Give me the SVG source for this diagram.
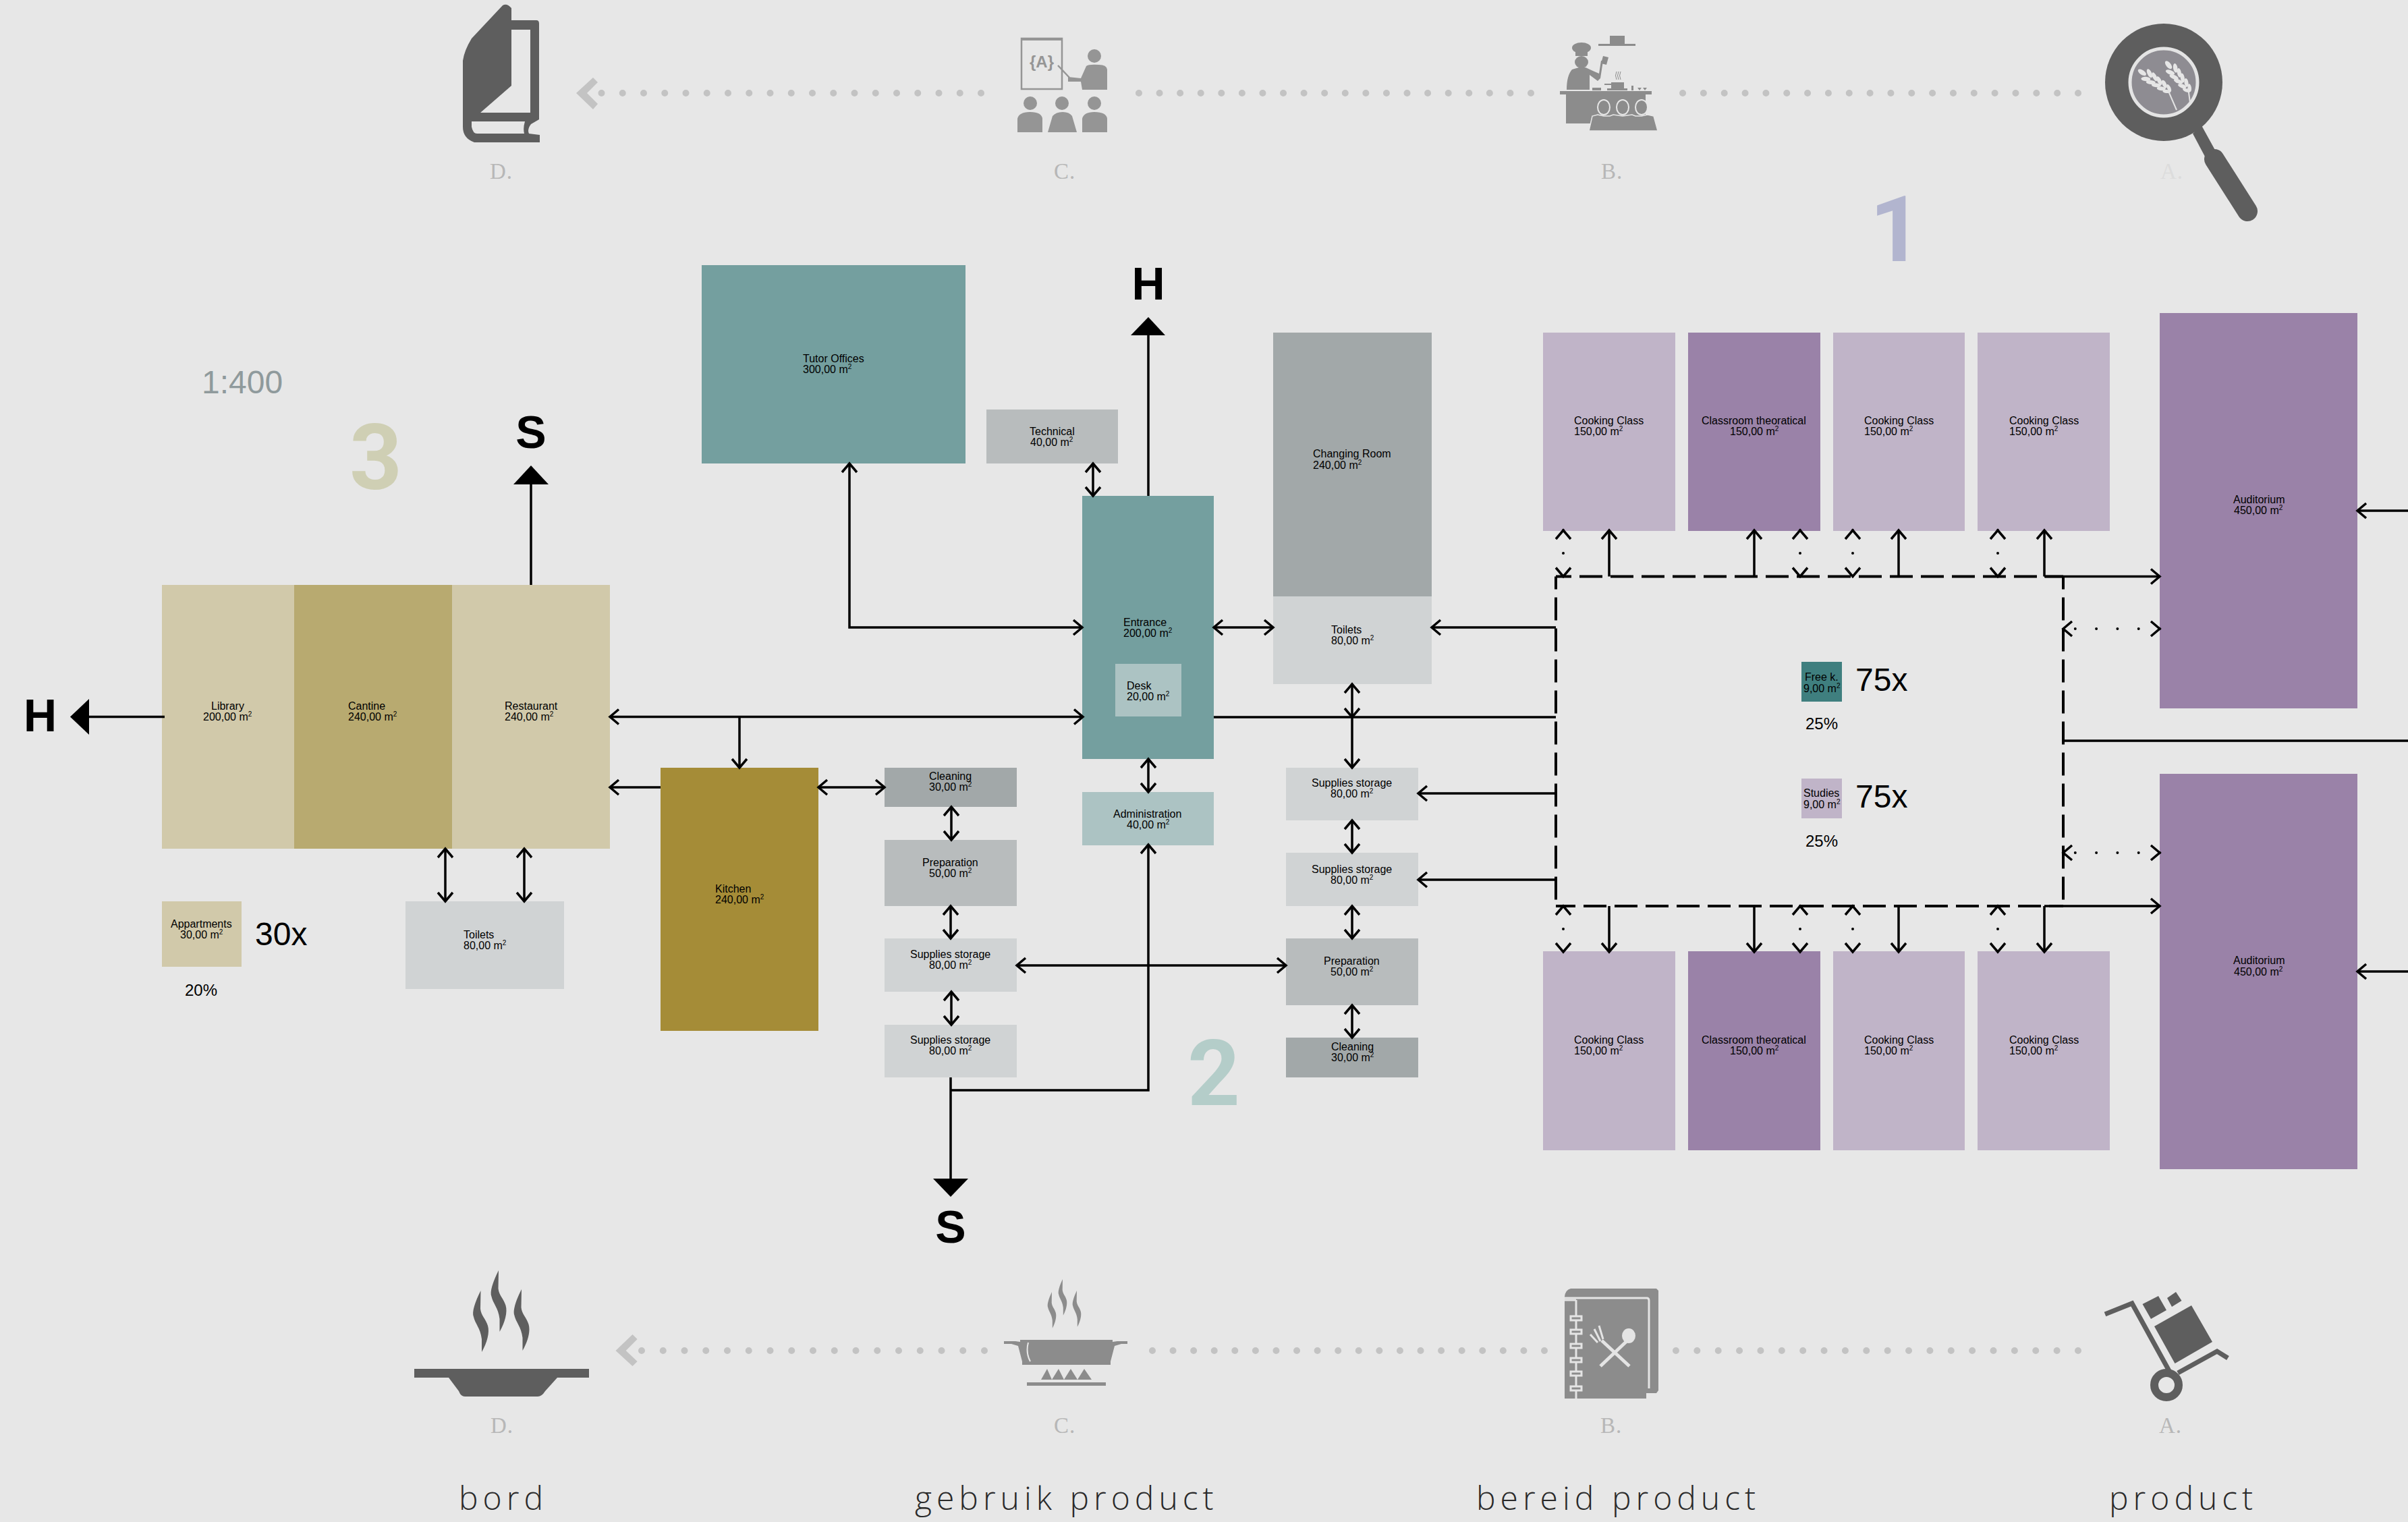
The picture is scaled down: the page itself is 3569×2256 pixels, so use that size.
<svg xmlns="http://www.w3.org/2000/svg" width="3569" height="2256" viewBox="0 0 3569 2256">
<style>
text{font-family:"Liberation Sans",Arial,sans-serif;fill:#000}
.l{font-size:16px}
.s{font-size:10px}
.big{font-size:48px}
.pct{font-size:24px}
.dir{font-size:68px;font-weight:700}
.num{font-family:Roboto,"Liberation Sans",sans-serif;font-size:136px;font-weight:700}
.ltr{font-family:"Liberation Serif",serif;font-size:33px;fill:#b7b7b7;letter-spacing:1px}
.cap{font-family:"Open Sans",sans-serif;font-weight:300;font-size:48px;fill:#2a2a2a;letter-spacing:7px}
.lib{fill:#d1c9aa}.can{fill:#b8aa70}.kit{fill:#a58c37}.teal{fill:#749f9f}.pale{fill:#acc3c3}
.g1{fill:#a2a8a9}.g2{fill:#b8bcbd}.g3{fill:#d0d3d4}.p1{fill:#c0b4c8}.p2{fill:#9a82a8}
.c{fill:none;stroke:#000;stroke-width:3.5}
.u{marker-end:url(#a)}.b{marker-start:url(#a);marker-end:url(#a)}
.dash{stroke-width:4;stroke-dasharray:34 12}
.dot{stroke-width:4;stroke-linecap:round;stroke-dasharray:0 34}
.dots{fill:none;stroke:#c3c3c3;stroke-width:10;stroke-linecap:round}
.dk{fill:#5e5e5e}.md{fill:#8c8c8c}.hl{fill:#e7e7e7}
</style>
<defs>
<marker id="a" markerWidth="32" markerHeight="32" refX="28" refY="16" orient="auto-start-reverse" markerUnits="userSpaceOnUse"><path d="M15,5 L28,16 L15,27" fill="none" stroke="#000" stroke-width="3.5"/></marker>
<path id="smoke" d="M712.5,1913 C704,1930 699,1945 702,1952 C704,1962 712,1968 714,1985 L714,2004 C722,1990 726,1975 723,1965 C720,1955 713,1950 712,1940 Z"/>
<g id="ear" fill="#e6e6e6"><ellipse cx="0" cy="-3" rx="6" ry="2.6" transform="rotate(-30 0 -3)"/><ellipse cx="0" cy="3" rx="6" ry="2.6" transform="rotate(30 0 3)"/><ellipse cx="9" cy="-4" rx="6.5" ry="3" transform="rotate(-30 9 -4)"/><ellipse cx="9" cy="4" rx="6.5" ry="3" transform="rotate(30 9 4)"/><ellipse cx="18" cy="-4" rx="7" ry="3" transform="rotate(-30 18 -4)"/><ellipse cx="18" cy="4" rx="7" ry="3" transform="rotate(30 18 4)"/><ellipse cx="27" cy="-5" rx="7" ry="3" transform="rotate(-30 27 -5)"/><ellipse cx="27" cy="5" rx="7" ry="3" transform="rotate(30 27 5)"/><ellipse cx="36" cy="-5" rx="7" ry="3.2" transform="rotate(-30 36 -5)"/><ellipse cx="36" cy="5" rx="7" ry="3.2" transform="rotate(30 36 5)"/><ellipse cx="46" cy="0" rx="7" ry="3.5"/></g>
</defs>
<rect width="3569" height="2256" fill="#e7e7e7"/>

<g id="icons-top">
<g id="icon-book"><path class="dk" fill-rule="evenodd" d="M745,8 Q751,4 758,12 V30 H795 Q799,30 799,35 V177 L787,184 Q781,192 784,198 L800,200 V211 H703 Q686,205 686,188 V90 Q688,75 699,57 Z M758,44 V127 L712,167 H786 V44 Z M699,180 V188 Q701,198 707,198 H777 Q775,190 778,180 Z"/></g>
<g id="icon-teacher" fill="#959595">
<rect x="1514" y="57" width="60" height="75" fill="none" stroke="#959595" stroke-width="2.5"/><rect x="1513" y="56" width="62" height="4"/>
<text x="1544" y="100" text-anchor="middle" font-size="24" font-weight="700" style="fill:#959595">{A}</text>
<path d="M1568,97 L1585,115" stroke="#959595" stroke-width="2.5"/>
<ellipse cx="1622" cy="83" rx="10" ry="10"/>
<path d="M1604,133 H1641 V103 Q1640,96 1629,96 Q1613,95 1610,98 L1602,116 L1583,114 V121 H1602 Z"/>
<ellipse cx="1527" cy="153" rx="10" ry="10"/><ellipse cx="1574" cy="153" rx="10" ry="10"/><ellipse cx="1622" cy="153" rx="10" ry="10"/>
<path d="M1508,196 V176 Q1510,166 1527,166 Q1544,166 1545,176 V196 Z M1553,196 L1560,172 Q1565,166 1575,166 Q1585,166 1589,172 L1596,196 Z M1604,196 V176 Q1606,166 1622,166 Q1640,166 1641,176 V196 Z"/>
</g>
<g id="icon-chef" class="md">
<rect x="2369" y="65" width="55" height="3"/><rect x="2386" y="53" width="22" height="12"/>
<ellipse cx="2344" cy="71" rx="14" ry="8"/><rect x="2335" y="75" width="18" height="8"/><ellipse cx="2344" cy="92" rx="10" ry="9"/>
<path d="M2322,133 Q2322,112 2330,103 L2340,100 H2350 L2363,106 L2370,109 L2373,90 L2376,90 L2372,116 L2368,120 L2356,111 V133 Z"/>
<path d="M2373,94 L2376,83 L2384,85 L2381,96 Z"/>
<path d="M2396,106 q-3,6 0,12 M2399,106 q-3,6 0,12 M2402,106 q-3,6 0,12" fill="none" stroke="#8c8c8c" stroke-width="1"/>
<rect x="2388" y="122" width="19" height="9"/><rect x="2378" y="124" width="10" height="2"/><rect x="2360" y="130" width="13" height="4"/><rect x="2382" y="131" width="30" height="3"/><rect x="2418" y="127" width="3" height="7"/><path d="M2427,130 h6 l-3,4 Z M2435,130 h6 l-3,4 Z"/>
<rect x="2312" y="135" width="136" height="5"/><rect x="2321" y="139" width="118" height="44"/>
<path d="M2355,194 L2360,172 L2368,170 L2377,172 L2386,172 L2391,170 L2405,172 L2419,170 L2424,172 L2433,172 L2442,170 L2451,172 L2457,194 Z" stroke="#e7e7e7" stroke-width="1.5"/>
<ellipse cx="2377" cy="159" rx="9" ry="11" stroke="#e7e7e7" stroke-width="2"/><ellipse cx="2405" cy="159" rx="9" ry="11" stroke="#e7e7e7" stroke-width="2"/><ellipse cx="2433" cy="159" rx="9" ry="11" stroke="#e7e7e7" stroke-width="2"/>
</g>
<g id="icon-magnifier">
<path class="dk" d="M3263,186 L3250,198 L3268,232 L3285,226 Z"/>
<line x1="3282" y1="236" x2="3331" y2="313" stroke="#5e5e5e" stroke-width="30" stroke-linecap="round"/>
<circle cx="3207" cy="122" r="87" class="dk"/>
<circle cx="3207" cy="122" r="50" fill="#8e8c92" stroke="#e4e4e4" stroke-width="5"/>
<use href="#ear" transform="translate(3213,133) rotate(214)"/>
<use href="#ear" transform="translate(3243,132) rotate(231)"/>
<path d="M3213,133 L3226,163 M3243,130 L3246,152" fill="none" stroke="#e3e3e3" stroke-width="2"/>
</g>
</g>
<text class="ltr" x="726" y="265">D.</text>
<text class="ltr" x="1562" y="265">C.</text>
<text class="ltr" x="2373" y="265">B.</text>
<text class="ltr" x="3202" y="265" style="fill:#dcdcdc">A.</text>
<line class="dots" x1="1454" y1="138" x2="889" y2="138" stroke-dasharray="0 31.25"/>
<line class="dots" x1="2269" y1="138" x2="1686" y2="138" stroke-dasharray="0 30.58"/>
<line class="dots" x1="3080" y1="138" x2="2492" y2="138" stroke-dasharray="0 30.84"/>
<polygon points="854,138 879,115 886,122 870,138 886,154 879,162" fill="#c3c3c3"/>

<g id="icons-bottom">
<g id="icon-pan" class="dk">
<path d="M614,2029 H873 V2042 H826 L808,2062 Q803,2070 797,2070 H689 Q683,2070 680,2062 L665,2042 H614 Z"/>
<use href="#smoke"/><use href="#smoke" transform="translate(26.5,-30)"/><use href="#smoke" transform="translate(60.5,-2)"/>
</g>
<g id="icon-stove" class="md">
<path d="M1512,1986 H1649 V1989 L1656,1988 L1671,1988 V1992 H1662 L1652,1995 L1646,2018 V2023 H1515 V2018 L1509,1995 L1499,1992 H1488 V1988 H1505 L1512,1989 Z"/>
<path d="M1524,1990 Q1520,2005 1527,2018" fill="none" stroke="#e7e7e7" stroke-width="2"/>
<path d="M1543,2045 L1552,2029 L1559,2045 L1569,2029 L1577,2045 L1587,2029 L1597,2045 L1607,2029 L1618,2045 Z"/>
<rect x="1522" y="2049" width="117" height="5"/>
<use href="#smoke" transform="matrix(.55 0 0 .59 1167.1 786.3)"/><use href="#smoke" transform="matrix(.55 0 0 .59 1183.1 767.3)"/><use href="#smoke" transform="matrix(.55 0 0 .59 1204.1 784.3)"/>
</g>
<g id="icon-recipe">
<path class="md" d="M2319,1922 Q2320,1912 2328,1910 H2455 L2458,1913 V2061 L2455,2065 H2440 V2073 H2319 Z"/>
<path d="M2319,1924 H2441 Q2444,1924 2444,1928 V2058" fill="none" stroke="#e4e4e4" stroke-width="3"/>
<path d="M2319,1927 H2336 M2336,1927 V2073" fill="none" stroke="#e4e4e4" stroke-width="3"/>
<g fill="#8c8c8c" stroke="#e4e4e4" stroke-width="3"><rect x="2328" y="1951" width="16" height="6"/><rect x="2328" y="1971" width="16" height="6"/><rect x="2328" y="1992" width="16" height="6"/><rect x="2328" y="2013" width="16" height="6"/><rect x="2328" y="2033" width="16" height="6"/><rect x="2328" y="2055" width="16" height="6"/></g>
<g stroke="#e4e4e4" fill="#e4e4e4" stroke-width="5"><line x1="2372" y1="2025" x2="2411" y2="1988"/><line x1="2415" y1="2025" x2="2374" y2="1987"/><ellipse cx="2414" cy="1980" rx="10" ry="11" stroke="none"/><path d="M2370,1965 L2376,1985 M2363,1970 L2372,1988 M2357,1978 L2368,1990" fill="none" stroke-width="3"/></g>
</g>
<g id="icon-trolley">
<path d="M3120,1948 L3160,1932 L3215,2032 M3228,2035 L3286,2003 L3302,2013" fill="none" stroke="#5e5e5e" stroke-width="7"/>
<circle cx="3211" cy="2053" r="18" fill="#e7e7e7" stroke="#5e5e5e" stroke-width="12"/>
<path class="dk" d="M3248,1935 L3279,1989 L3223.5,2021 L3193,1966 Z M3199,1921 L3211,1942 L3188,1955 L3175.5,1933 Z M3225,1915 L3233.5,1928 L3219,1937 L3212,1924 Z"/>
</g>
</g>
<text class="ltr" x="727" y="2124">D.</text>
<text class="ltr" x="1562" y="2124">C.</text>
<text class="ltr" x="2372" y="2124">B.</text>
<text class="ltr" x="3200" y="2124">A.</text>
<line class="dots" x1="1459" y1="2002" x2="949" y2="2002" stroke-dasharray="0 31.75"/>
<line class="dots" x1="2289" y1="2002" x2="1706" y2="2002" stroke-dasharray="0 30.58"/>
<line class="dots" x1="3080" y1="2002" x2="2482" y2="2002" stroke-dasharray="0 31.37"/>
<polygon points="912.5,2002 937.5,1978 944.6,1985 927.7,2002 944.6,2018 937.5,2025" fill="#c3c3c3"/>
<text class="cap" x="680" y="2238">bord</text>
<text class="cap" x="1356" y="2238">gebruik product</text>
<text class="cap" x="2188" y="2238">bereid product</text>
<text class="cap" x="3126" y="2238">product</text>

<text x="299" y="583" font-size="48" style="fill:#8f9a9c">1:400</text>
<text class="num" x="2810" y="387" text-anchor="middle" style="fill:#b2b5cf">1</text>
<text class="num" x="1799" y="1638" text-anchor="middle" style="fill:#b4cdc9">2</text>
<text class="num" x="557" y="725" text-anchor="middle" style="fill:#cfcfb4">3</text>

<g id="nodes">
<g id="library"><rect class="lib" x="240" y="867" width="196" height="391"/><text class="l"><tspan x="313" y="1052">Library</tspan><tspan x="301" y="1068">200,00 m<tspan class="s" dy="-6">2</tspan></tspan></text></g>
<g id="cantine"><rect class="can" x="436" y="867" width="234" height="391"/><text class="l"><tspan x="516" y="1052">Cantine</tspan><tspan x="516" y="1068">240,00 m<tspan class="s" dy="-6">2</tspan></tspan></text></g>
<g id="restaurant"><rect class="lib" x="670" y="867" width="234" height="391"/><text class="l"><tspan x="748" y="1052">Restaurant</tspan><tspan x="748" y="1068">240,00 m<tspan class="s" dy="-6">2</tspan></tspan></text></g>
<g id="appartments"><rect class="lib" x="240" y="1336" width="118" height="97"/><text class="l"><tspan x="253" y="1375">Appartments</tspan><tspan x="267" y="1391">30,00 m<tspan class="s" dy="-6">2</tspan></tspan></text></g>
<text class="big" x="378" y="1401">30x</text>
<text class="pct" x="274" y="1476">20%</text>
<g id="toilets-3"><rect class="g3" x="601" y="1336" width="235" height="130"/><text class="l"><tspan x="687" y="1391">Toilets</tspan><tspan x="687" y="1407">80,00 m<tspan class="s" dy="-6">2</tspan></tspan></text></g>
<g id="kitchen"><rect class="kit" x="979" y="1138" width="234" height="390"/><text class="l"><tspan x="1060" y="1323">Kitchen</tspan><tspan x="1060" y="1339">240,00 m<tspan class="s" dy="-6">2</tspan></tspan></text></g>
<g id="tutor-offices"><rect class="teal" x="1040" y="393" width="391" height="294"/><text class="l"><tspan x="1190" y="537">Tutor Offices</tspan><tspan x="1190" y="553">300,00 m<tspan class="s" dy="-6">2</tspan></tspan></text></g>
<g id="technical"><rect class="g2" x="1462" y="607" width="195" height="80"/><text class="l"><tspan x="1526" y="645">Technical</tspan><tspan x="1527" y="661">40,00 m<tspan class="s" dy="-6">2</tspan></tspan></text></g>
<g id="entrance"><rect class="teal" x="1604" y="735" width="195" height="390"/><text class="l"><tspan x="1665" y="928">Entrance</tspan><tspan x="1665" y="944">200,00 m<tspan class="s" dy="-6">2</tspan></tspan></text></g>
<g id="desk"><rect class="pale" x="1653" y="984" width="98" height="78"/><text class="l"><tspan x="1670" y="1022">Desk</tspan><tspan x="1670" y="1038">20,00 m<tspan class="s" dy="-6">2</tspan></tspan></text></g>
<g id="administration"><rect class="pale" x="1604" y="1174" width="195" height="79"/><text class="l"><tspan x="1650" y="1212">Administration</tspan><tspan x="1670" y="1228">40,00 m<tspan class="s" dy="-6">2</tspan></tspan></text></g>
<g id="changing-room"><rect class="g1" x="1887" y="493" width="235" height="391"/><text class="l"><tspan x="1946" y="678">Changing Room</tspan><tspan x="1946" y="695">240,00 m<tspan class="s" dy="-6">2</tspan></tspan></text></g>
<g id="toilets-2"><rect class="g3" x="1887" y="884" width="235" height="130"/><text class="l"><tspan x="1973" y="939">Toilets</tspan><tspan x="1973" y="955">80,00 m<tspan class="s" dy="-6">2</tspan></tspan></text></g>
<g id="cleaning-l"><rect class="g1" x="1311" y="1138" width="196" height="58"/><text class="l"><tspan x="1377" y="1156">Cleaning</tspan><tspan x="1377" y="1172">30,00 m<tspan class="s" dy="-6">2</tspan></tspan></text></g>
<g id="preparation-l"><rect class="g2" x="1311" y="1245" width="196" height="98"/><text class="l"><tspan x="1367" y="1284">Preparation</tspan><tspan x="1377" y="1300">50,00 m<tspan class="s" dy="-6">2</tspan></tspan></text></g>
<g id="supplies-l1"><rect class="g3" x="1311" y="1391" width="196" height="79"/><text class="l"><tspan x="1349" y="1420">Supplies storage</tspan><tspan x="1377" y="1436">80,00 m<tspan class="s" dy="-6">2</tspan></tspan></text></g>
<g id="supplies-l2"><rect class="g3" x="1311" y="1519" width="196" height="78"/><text class="l"><tspan x="1349" y="1547">Supplies storage</tspan><tspan x="1377" y="1563">80,00 m<tspan class="s" dy="-6">2</tspan></tspan></text></g>
<g id="supplies-r1"><rect class="g3" x="1906" y="1138" width="196" height="78"/><text class="l"><tspan x="1944" y="1166">Supplies storage</tspan><tspan x="1972" y="1182">80,00 m<tspan class="s" dy="-6">2</tspan></tspan></text></g>
<g id="supplies-r2"><rect class="g3" x="1906" y="1264" width="196" height="79"/><text class="l"><tspan x="1944" y="1294">Supplies storage</tspan><tspan x="1972" y="1310">80,00 m<tspan class="s" dy="-6">2</tspan></tspan></text></g>
<g id="preparation-r"><rect class="g2" x="1906" y="1391" width="196" height="99"/><text class="l"><tspan x="1962" y="1430">Preparation</tspan><tspan x="1972" y="1446">50,00 m<tspan class="s" dy="-6">2</tspan></tspan></text></g>
<g id="cleaning-r"><rect class="g1" x="1906" y="1538" width="196" height="59"/><text class="l"><tspan x="1973" y="1557">Cleaning</tspan><tspan x="1973" y="1573">30,00 m<tspan class="s" dy="-6">2</tspan></tspan></text></g>

<g id="cooking-t1"><rect class="p1" x="2287" y="493" width="196" height="294"/><text class="l"><tspan x="2333" y="629">Cooking Class</tspan><tspan x="2333" y="645">150,00 m<tspan class="s" dy="-6">2</tspan></tspan></text></g>
<g id="classroom-t"><rect class="p2" x="2502" y="493" width="196" height="294"/><text class="l"><tspan x="2522" y="629">Classroom theoratical</tspan><tspan x="2564" y="645">150,00 m<tspan class="s" dy="-6">2</tspan></tspan></text></g>
<g id="cooking-t2"><rect class="p1" x="2717" y="493" width="195" height="294"/><text class="l"><tspan x="2763" y="629">Cooking Class</tspan><tspan x="2763" y="645">150,00 m<tspan class="s" dy="-6">2</tspan></tspan></text></g>
<g id="cooking-t3"><rect class="p1" x="2931" y="493" width="196" height="294"/><text class="l"><tspan x="2978" y="629">Cooking Class</tspan><tspan x="2978" y="645">150,00 m<tspan class="s" dy="-6">2</tspan></tspan></text></g>
<g id="auditorium-t"><rect class="p2" x="3201" y="464" width="293" height="586"/><text class="l"><tspan x="3310" y="746">Auditorium</tspan><tspan x="3311" y="762">450,00 m<tspan class="s" dy="-6">2</tspan></tspan></text></g>
<g id="cooking-b1"><rect class="p1" x="2287" y="1410" width="196" height="295"/><text class="l"><tspan x="2333" y="1547">Cooking Class</tspan><tspan x="2333" y="1563">150,00 m<tspan class="s" dy="-6">2</tspan></tspan></text></g>
<g id="classroom-b"><rect class="p2" x="2502" y="1410" width="196" height="295"/><text class="l"><tspan x="2522" y="1547">Classroom theoratical</tspan><tspan x="2564" y="1563">150,00 m<tspan class="s" dy="-6">2</tspan></tspan></text></g>
<g id="cooking-b2"><rect class="p1" x="2717" y="1410" width="195" height="295"/><text class="l"><tspan x="2763" y="1547">Cooking Class</tspan><tspan x="2763" y="1563">150,00 m<tspan class="s" dy="-6">2</tspan></tspan></text></g>
<g id="cooking-b3"><rect class="p1" x="2931" y="1410" width="196" height="295"/><text class="l"><tspan x="2978" y="1547">Cooking Class</tspan><tspan x="2978" y="1563">150,00 m<tspan class="s" dy="-6">2</tspan></tspan></text></g>
<g id="auditorium-b"><rect class="p2" x="3201" y="1147" width="293" height="586"/><text class="l"><tspan x="3310" y="1429">Auditorium</tspan><tspan x="3311" y="1446">450,00 m<tspan class="s" dy="-6">2</tspan></tspan></text></g>
<g id="free-k"><rect x="2670" y="981" width="60" height="59" fill="#3f7f7f"/><text class="l"><tspan x="2675" y="1009">Free k.</tspan><tspan x="2673" y="1026">9,00 m<tspan class="s" dy="-6">2</tspan></tspan></text></g>
<text class="big" x="2750" y="1024">75x</text>
<text class="pct" x="2676" y="1081">25%</text>
<g id="studies"><rect class="p1" x="2670" y="1154" width="60" height="59"/><text class="l"><tspan x="2673" y="1181">Studies</tspan><tspan x="2673" y="1198">9,00 m<tspan class="s" dy="-6">2</tspan></tspan></text></g>
<text class="big" x="2750" y="1197">75x</text>
<text class="pct" x="2676" y="1255">25%</text>
<text class="dir" x="787" y="664" text-anchor="middle">S</text>
<text class="dir" x="35" y="1084">H</text>
<text class="dir" x="1702" y="444" text-anchor="middle">H</text>
<text class="dir" x="1409" y="1842" text-anchor="middle">S</text>
</g>

<g id="connectors">
<path class="c" d="M787,867 V715"/><polygon points="787,690 761,718 813,718"/>
<path class="c" d="M244,1062.5 H130"/><polygon points="104,1062.5 132,1036 132,1089"/>
<path class="c" d="M1702,735 V495"/><polygon points="1702,470 1676,497 1727,497"/>
<path class="c" d="M1409,1597 V1750"/><polygon points="1409,1774 1383,1747 1435,1747"/>
<path class="c b" d="M904,1062.5 H1605"/>
<path class="c u" d="M1096,1062.5 V1138"/>
<path class="c u" d="M979,1167 H904"/>
<path class="c b" d="M1213,1167 H1311"/>
<path class="c b" d="M660,1258 V1336"/>
<path class="c b" d="M777,1258 V1336"/>
<path class="c b" d="M1259,687 V930 H1604"/>
<path class="c b" d="M1620,687 V735"/>
<path class="c b" d="M1799,930 H1887"/>
<path class="c u" d="M2306,930 H2122"/>
<path class="c" d="M1799,1063 H2306"/>
<path class="c b" d="M2004,1014 V1063"/>
<path class="c u" d="M2004,1063 V1138"/>
<path class="c b" d="M1702,1125 V1174"/>
<path class="c u" d="M2306,1176 H2102"/>
<path class="c u" d="M2306,1304 H2102"/>
<path class="c b" d="M2004,1216 V1264"/>
<path class="c b" d="M2004,1343 V1391"/>
<path class="c b" d="M2004,1490 V1538"/>
<path class="c b" d="M1410,1196 V1245"/>
<path class="c b" d="M1409,1343 V1391"/>
<path class="c b" d="M1410,1470 V1519"/>
<path class="c b" d="M1507,1431 H1906"/>
<path class="c u" d="M1409,1616 H1702 V1252"/>
<path class="c u" d="M3569,757 H3494"/>
<path class="c u" d="M3569,1440 H3494"/>
<path class="c" d="M3058,1098 H3569"/>
<path class="c dash" d="M2306,854.5 H3058" stroke-dashoffset="11"/>
<path class="c dash" d="M2306,1343 H3058" stroke-dashoffset="5"/>
<path class="c dash" d="M2306,854.5 V1343" stroke-dashoffset="15"/>
<path class="c dash" d="M3058,854.5 V1343" stroke-dashoffset="15"/>
<path class="c u" d="M2385,854.5 V786"/><path class="c u" d="M2600,854.5 V786"/><path class="c u" d="M2814,854.5 V786"/><path class="c u" d="M3030,854.5 V786"/>
<path class="c u" d="M3030,854.5 H3201"/>
<path class="c u" d="M3030,1343 H3201"/>
<path class="c u" d="M2385,1343 V1411"/><path class="c u" d="M2600,1343 V1411"/><path class="c u" d="M2814,1343 V1411"/><path class="c u" d="M3030,1343 V1411"/>
<path class="c dot b" d="M2317,786 V854.5"/><path class="c dot b" d="M2668,786 V854.5"/><path class="c dot b" d="M2746,786 V854.5"/><path class="c dot b" d="M2961,786 V854.5"/>
<path class="c dot b" d="M2317,1343 V1411"/><path class="c dot b" d="M2668,1343 V1411"/><path class="c dot b" d="M2746,1343 V1411"/><path class="c dot b" d="M2961,1343 V1411"/>
<path class="c dot b" d="M3201,932 H3058" style="stroke-dasharray:0 31.3"/>
<path class="c dot b" d="M3201,1264 H3058" style="stroke-dasharray:0 31.3"/>
</g>
</svg>
